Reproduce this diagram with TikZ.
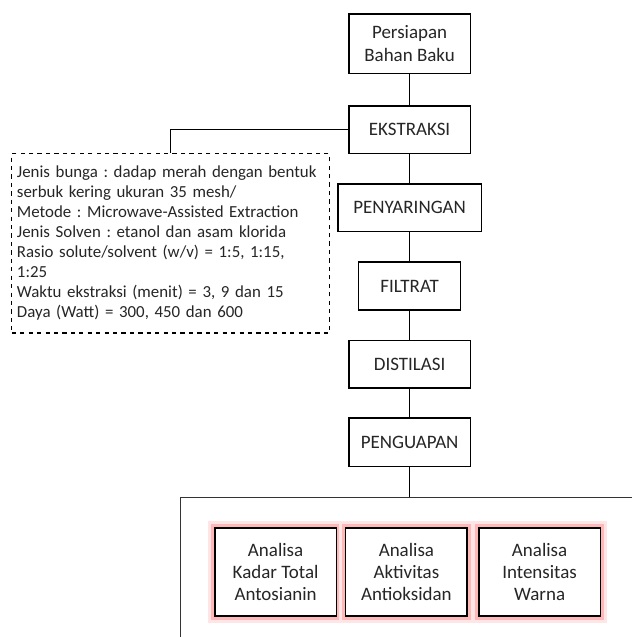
\documentclass[tikz,border=0pt]{standalone}
\usepackage{fontspec}
\setmainfont{Carlito}
\usetikzlibrary{positioning}
\frenchspacing

\begin{document}
\begin{tikzpicture}[
                every node/.style={font=\fontsize{13.5}{15.8}\selectfont, text=black!85},
                stepbox/.style={rectangle, draw=black, line width=0.8pt, fill=white, align=center},
                infobox/.style={rectangle, draw=black, dashed, line width=0.8pt, fill=white, anchor=north west, align=left, text width=7.68cm, minimum height=4.48cm, inner sep=0.13cm, font=\fontsize{12}{14.2}\selectfont},
                panel/.style={rectangle, draw=black!80, line width=0.9pt, anchor=north west, minimum width=12cm, minimum height=4cm},
                anabox/.style={stepbox, minimum width=3.03cm, minimum height=2.2cm, preaction={draw=red!10, line width=10pt}, preaction={draw=red!28, line width=5pt}},
                link/.style={draw=black, line width=0.8pt}
            ]
                \clip (0,0) rectangle (15.8,-15.925);

                % Main process steps
                \node[stepbox, minimum width=3.03cm, minimum height=1.48cm] (prep)    at (10.24,-1.09)  {Persiapan\\Bahan Baku};
                \node[stepbox, minimum width=3.03cm, minimum height=1.18cm] (ekstr)   at (10.24,-3.24)  {EKSTRAKSI};
                \node[stepbox, minimum width=3.58cm, minimum height=1.18cm] (saring)  at (10.24,-5.19)  {PENYARINGAN};
                \node[stepbox, minimum width=2.55cm, minimum height=1.2cm]  (filtrat) at (10.24,-7.15)  {FILTRAT};
                \node[stepbox, minimum width=3.03cm, minimum height=1.18cm] (distil)  at (10.24,-9.11)  {DISTILASI};
                \node[stepbox, minimum width=3.03cm, minimum height=1.22cm] (uap)     at (10.24,-11.06) {PENGUAPAN};

                % Extraction conditions
                \node[infobox] (info) at (0.28,-3.83) {Jenis bunga : dadap merah dengan bentuk serbuk kering ukuran 35 mesh/\\
                    Metode : Microwave-Assisted Extraction\\
                    Jenis Solven : etanol dan asam klorida\\
                    Rasio solute/solvent (w/v) = 1:5, 1:15,\\
                    1:25\\
                    Waktu ekstraksi (menit) = 3, 9 dan 15\\
                    Daya (Watt) = 300, 450 dan 600};

                % Analysis panel
                \node[panel] (panel) at (4.5,-12.43) {};
                \node[anabox] (ana1) at (6.89,-14.3)  {Analisa\\Kadar Total\\Antosianin};
                \node[anabox] (ana2) at (10.16,-14.3) {Analisa\\Aktivitas\\Antioksidan};
                \node[anabox] (ana3) at (13.49,-14.3) {Analisa\\Intensitas\\Warna};

                % Connectors
                \draw[link] (prep.south) -- (ekstr.north);
                \draw[link] (ekstr.south) -- (saring.north);
                \draw[link] (saring.south) -- (filtrat.north);
                \draw[link] (filtrat.south) -- (distil.north);
                \draw[link] (distil.south) -- (uap.north);
                \draw[link] (uap.south) -- (uap.south |- panel.north);
                \draw[link] (info.north) |- (ekstr.west);
            \end{tikzpicture}
\end{document}
